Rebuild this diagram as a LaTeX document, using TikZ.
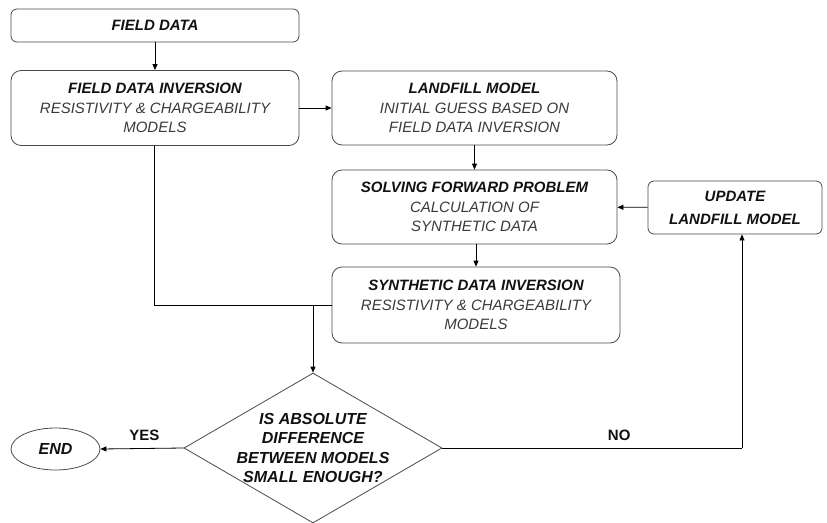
\documentclass[tikz,border=0pt]{standalone}
\usepackage{fontspec}
\setmainfont{Liberation Sans}
\usetikzlibrary{arrows.meta,shapes.geometric}
\definecolor{headtext}{HTML}{111111}
\definecolor{subtext}{HTML}{3A3A3A}
\definecolor{edge}{HTML}{4A4A4A}
\newcommand\boxhead[1]{{\bfseries\itshape\color{headtext}#1}}
\newcommand\boxsub[1]{{\itshape\color{subtext}#1}}
\begin{document}
\begin{tikzpicture}[x=1pt,y=-1pt,
  every node/.style={inner sep=0pt},
  stepbox/.style={draw=edge, line width=0.8pt, rounded corners=10pt, align=center,
    font=\fontsize{15}{19.5}\selectfont},
  decision/.style={draw=edge, line width=0.8pt, shape=diamond, minimum width=258pt, minimum height=150pt},
  dectxt/.style={align=center, font=\fontsize{16}{19.5}\selectfont\bfseries\itshape, text=headtext},
  terminal/.style={draw=edge, line width=0.8pt, shape=ellipse, minimum width=89pt, minimum height=42pt,
    font=\fontsize{16}{19}\selectfont\bfseries\itshape, text=headtext},
  flow/.style={line width=0.8pt, -{Triangle[length=6pt,width=5pt]}},
  plain/.style={line width=0.8pt},
  answer/.style={font=\fontsize{15}{17}\selectfont\bfseries, text=headtext}]
\useasboundingbox (0,0) rectangle (827,522);

% process boxes
\node[stepbox, rounded corners=6pt, minimum width=288pt, minimum height=33pt] (fd) at (155,25.5)
  {\boxhead{FIELD DATA}};
\node[stepbox, minimum width=288pt, minimum height=75pt] (fdi) at (155,108)
  {\boxhead{FIELD DATA INVERSION}\\ \boxsub{RESISTIVITY \& CHARGEABILITY}\\ \boxsub{MODELS}};
\node[stepbox, minimum width=285pt, minimum height=74pt] (lm) at (474.5,108)
  {\boxhead{LANDFILL MODEL}\\ \boxsub{INITIAL GUESS BASED ON}\\ \boxsub{FIELD DATA INVERSION}};
\node[stepbox, minimum width=285pt, minimum height=74pt] (sfp) at (474.5,207)
  {\boxhead{SOLVING FORWARD PROBLEM}\\ \boxsub{CALCULATION OF}\\ \boxsub{SYNTHETIC DATA}};
\node[stepbox, minimum width=288pt, minimum height=76pt] (sdi) at (476,305)
  {\boxhead{SYNTHETIC DATA INVERSION}\\ \boxsub{RESISTIVITY \& CHARGEABILITY}\\ \boxsub{MODELS}};
\node[stepbox, rounded corners=6pt, minimum width=174pt, minimum height=53pt,
  font=\fontsize{15}{23}\selectfont] (ulm) at (735,207.5)
  {\boxhead{UPDATE}\\ \boxhead{LANDFILL MODEL}};

% decision and end
\node[decision, label={[dectxt]center:{IS ABSOLUTE\\DIFFERENCE\\BETWEEN MODELS\\SMALL ENOUGH?}}] (dec) at (313,448) {};
\node[terminal] (end) at (55.5,449) {END};

% connectors
\draw[flow] (fd) -- (fdi);
\draw[flow] (fdi) -- (lm);
\draw[flow] (lm.south -| sfp.north) -- (sfp.north);
\draw[flow] (sfp.south -| 476,0) -- (sdi.north);
\draw[flow] (ulm) -- (sfp);
\draw[plain] (fdi.south -| 154,0) |- (sdi.west);
\coordinate (join) at (dec.north |- sdi.west);
\draw[flow] (join) -- (dec.north);
\draw[flow] (dec.west) -- node[answer, above=7pt, pos=0.47] (yes) {YES} (end.east);
\coordinate (turn) at (742,448);
\draw[plain] (dec.east) -- node[answer, above=7pt, pos=0.59] (no) {NO} (turn);
\draw[flow] (turn) -- (turn |- ulm.south);
\end{tikzpicture}
\end{document}
